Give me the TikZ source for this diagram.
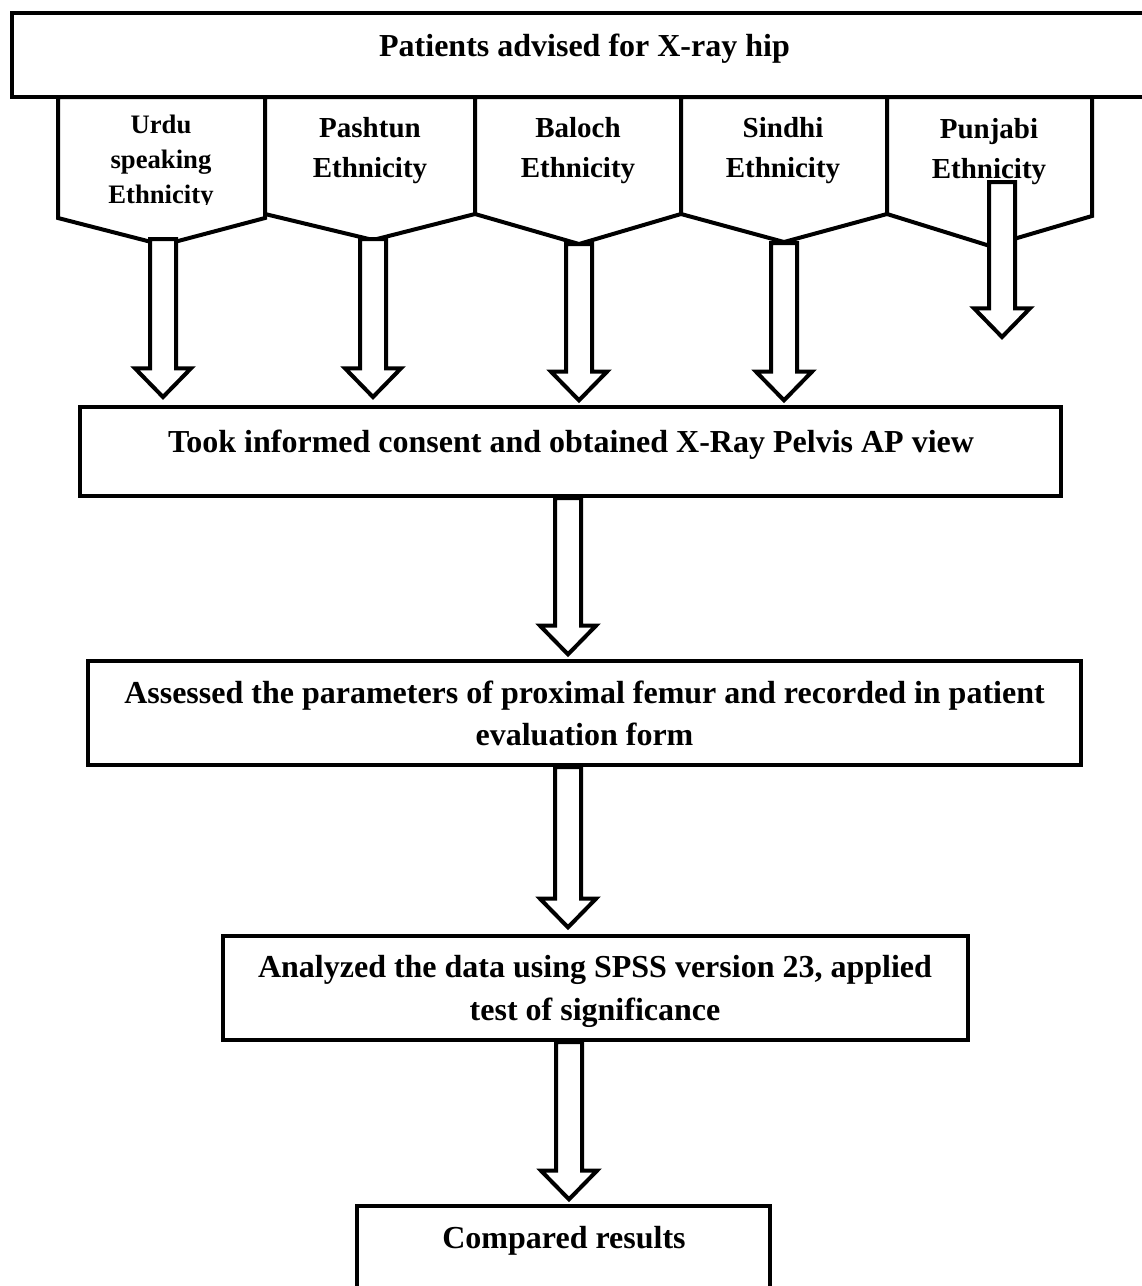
\documentclass[tikz,border=0pt]{standalone}
\usepackage{fontspec}
\setmainfont{Liberation Serif}
\usetikzlibrary{calc}
\tikzset{
  ln/.style={line width=3pt, line join=miter},
  boxnode/.style={draw, ln, rectangle, inner sep=0pt, fill=white},
  pent/.style={draw, ln, fill=white},
  txt/.style={inner sep=0pt, anchor=base, font=\bfseries\fontsize{24}{31.5}\selectfont},
  etxt/.style={inner sep=0pt, anchor=base, font=\bfseries\fontsize{21.75}{30}\selectfont},
  utxt/.style={inner sep=0pt, anchor=base, font=\bfseries\fontsize{20}{26}\selectfont},
  barrow/.style={draw, ln, fill=white},
}
\newcommand\blockarrow[2]{%
  \path[barrow] let \p1=#1, \p2=#2 in
   (\x1-9.75pt,\y1) -- (\x1-9.75pt,\y2+21.5pt) -- (\x1-21pt,\y2+21.5pt) -- (\x1,\y2)
   -- (\x1+21pt,\y2+21.5pt) -- (\x1+9.75pt,\y2+21.5pt) -- (\x1+9.75pt,\y1) -- cycle;}
\begin{document}
\begin{tikzpicture}[x=0.75pt, y=-0.75pt]
\useasboundingbox (0,0) rectangle (1142,1286);
\clip (0,0) rectangle (1142,1286);

% boxes
\node[boxnode, minimum width=858.75pt, minimum height=63pt] (top) at (584.5,55) {};
\node[boxnode, minimum width=735.75pt, minimum height=66.75pt] (b2) at (570.5,451.5) {};
\node[boxnode, minimum width=744.75pt, minimum height=78pt] (b3) at (584.5,713) {};
\node[boxnode, minimum width=558.75pt, minimum height=78pt] (b4) at (595.5,988) {};
\node[boxnode, minimum width=309.75pt, minimum height=85.5pt] (b5) at (563.5,1263) {};

% pentagons
\draw[pent] (58,97) -- (58,218) -- (163,245) -- (265,218) -- (265,97) -- cycle;
\draw[pent] (265,97) -- (265,214) -- (373,240) -- (475,214) -- (475,97) -- cycle;
\draw[pent] (475,97) -- (475,214) -- (579,244) -- (681,214) -- (681,97) -- cycle;
\draw[pent] (681,97) -- (681,214) -- (784,242) -- (887,214) -- (887,97) -- cycle;
\draw[pent] (887,97) -- (887,214) -- (990,246) -- (1092,216) -- (1092,97) -- cycle;

% texts
\node[txt] (topt) at (584.5,56) {Patients advised for X-ray hip};
\begin{scope}
\clip (58,97) rectangle (265,204);
\node[utxt] (urdu1) at (161,133) {Urdu};
\node[utxt] (urdu2) at (161,168) {speaking};
\node[utxt] (urdu3) at (161,203) {Ethnicity};
\end{scope}
\node[etxt] (pash1) at (370,137) {Pashtun};
\node[etxt] (pash2) at (370,177) {Ethnicity};
\node[etxt] (bal1) at (578,137) {Baloch};
\node[etxt] (bal2) at (578,177) {Ethnicity};
\node[etxt] (sin1) at (783,137) {Sindhi};
\node[etxt] (sin2) at (783,177) {Ethnicity};
\node[etxt] (pun1) at (989,138) {Punjabi};
\node[etxt] (pun2) at (989,178) {Ethnicity};
\node[txt] (b2t) at (571,452) {Took informed consent and obtained X-Ray Pelvis AP view};
\node[txt] (b3t1) at (584.5,703) {Assessed the parameters of proximal femur and recorded in patient};
\node[txt] (b3t2) at (584.5,745) {evaluation form};
\node[txt] (b4t1) at (595,977) {Analyzed the data using SPSS version 23, applied};
\node[txt] (b4t2) at (595,1020) {test of significance};
\node[txt] (b5t) at (564,1248) {Compared results};

% arrow anchors
\coordinate (a1) at (163,239);
\coordinate (a2) at (373,239);
\coordinate (a3) at (579,244);
\coordinate (a4) at (784,243);
\coordinate (a5) at (1002,182);
\coordinate (a5t) at (1002,337);
\coordinate (c2) at (568,0);
\coordinate (c3) at (568,0);
\coordinate (c4) at (569,0);

\blockarrow{(a1)}{($(a1 |- b2.north)+(0,6pt)$)}
\blockarrow{(a2)}{($(a2 |- b2.north)+(0,6pt)$)}
\blockarrow{(a3)}{($(a3 |- b2.north)+(0,3.5pt)$)}
\blockarrow{(a4)}{($(a4 |- b2.north)+(0,3.5pt)$)}
\blockarrow{(a5)}{(a5t)}
\blockarrow{(c2 |- b2.south)}{($(c2 |- b3.north)+(0,3.5pt)$)}
\blockarrow{(c3 |- b3.south)}{($(c3 |- b4.north)+(0,5pt)$)}
\blockarrow{(c4 |- b4.south)}{($(c4 |- b5.north)+(0,3.5pt)$)}
\end{tikzpicture}
\end{document}
